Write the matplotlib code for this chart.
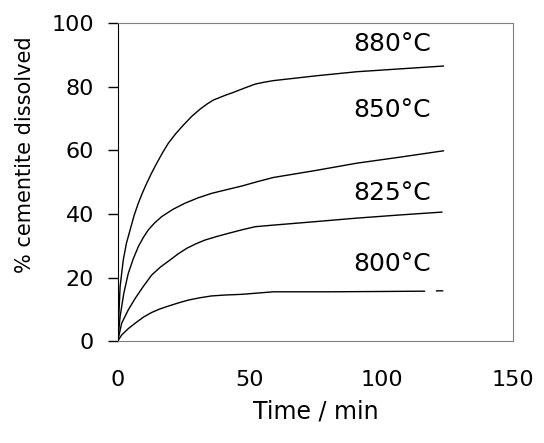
import numpy as np
import matplotlib
matplotlib.use('Agg')
import matplotlib.pyplot as plt

# readings (time in min, % dissolved)
t_880 = [0, 0.9, 2.1, 3.3, 4.7, 6.2, 7.8, 9.4, 11.0, 12.9, 14.8, 17.0, 19.2, 22.0, 24.9, 28.0,
         31.2, 33.8, 36.3, 40.5, 44.5, 48.5, 52.1, 55.5, 59.0, 75.0, 90.6, 107.0, 123.5]
y_880 = [0, 17.1, 25.5, 30.8, 35.0, 39.5, 43.4, 46.7, 49.7, 53.0, 56.0, 59.3, 62.3, 65.3, 68.0, 70.7,
         73.0, 74.6, 75.9, 77.3, 78.5, 79.8, 80.9, 81.5, 82.0, 83.5, 84.8, 85.7, 86.6]

t_850 = [0, 0.9, 2.3, 4.0, 5.9, 7.8, 9.7, 11.6, 14.0, 16.7, 21.0, 25.5, 30.5, 35.6, 41.0, 47.0,
         53.0, 59.0, 75.0, 90.6, 107.0, 123.5]
y_850 = [0, 7.7, 15.0, 21.3, 25.9, 29.7, 32.6, 35.0, 37.2, 39.2, 41.5, 43.4, 45.1, 46.5, 47.6, 48.8,
         50.2, 51.5, 53.7, 56.0, 57.9, 59.9]

t_825 = [0, 1.5, 4.0, 6.6, 9.7, 12.9, 16.2, 19.8, 23.0, 26.2, 29.6, 33.1, 37.5, 41.9, 47.0,
         52.1, 59.0, 75.0, 90.6, 107.0, 122.9]
y_825 = [0, 5.6, 9.8, 13.4, 17.2, 20.8, 23.3, 25.5, 27.5, 29.2, 30.6, 31.8, 32.9, 33.9, 35.0,
         36.0, 36.5, 37.6, 38.7, 39.7, 40.6]

# the 800 curve has a small break near its end in the original
t_800 = [0, 1.5, 4.0, 6.6, 9.7, 12.9, 16.0, 19.2, 23.0, 26.8, 31.0, 35.6, 41.0, 47.0, 53.0,
         59.0, 80.0, 100.0, 116.3, 118.5, 120.9, 123.2]
y_800 = [0, 1.9, 3.9, 5.6, 7.5, 9.0, 10.1, 11.0, 12.0, 12.9, 13.6, 14.2, 14.5, 14.7, 15.1,
         15.5, 15.5, 15.6, 15.7, np.nan, 15.8, 15.8]

labels = ['880°C', '850°C', '825°C', '800°C']
label_t = [89.3, 89.3, 89.3, 89.3]
label_y = [93.5, 72.8, 46.6, 24.1]

x_ticks = [0, 50, 100, 150]
y_ticks = [0, 20, 40, 60, 80, 100]

fig = plt.figure(figsize=(5.44, 4.43), dpi=100)
ax = fig.add_axes([0.2164, 0.2302, 0.7272, 0.7168])

for t, y in [(t_880, y_880), (t_850, y_850), (t_825, y_825), (t_800, y_800)]:
    ax.plot(t, y, color='black', lw=1.0)

for lab, tx, ty in zip(labels, label_t, label_y):
    ax.text(tx, ty, lab, fontsize=18, ha='left', va='center')

ax.set_xlim(0, 150)
ax.set_ylim(0, 100)
ax.set_xticks(x_ticks)
ax.set_yticks(y_ticks)
ax.tick_params(axis='x', length=0, pad=21, labelsize=16)
ax.tick_params(axis='y', length=7, width=1, direction='out', pad=10, labelsize=16)

for s in ['top', 'right', 'bottom']:
    ax.spines[s].set_color('#808080')
ax.spines['left'].set_color('black')

ax.set_xlabel('Time / min', fontsize=17, labelpad=7)
ax.set_ylabel('% cementite dissolved', fontsize=15)
# label sits above the middle of the axis in the original
ax.yaxis.set_label_coords(-0.21, 0.586)

fig.savefig('out.png', dpi=100)
